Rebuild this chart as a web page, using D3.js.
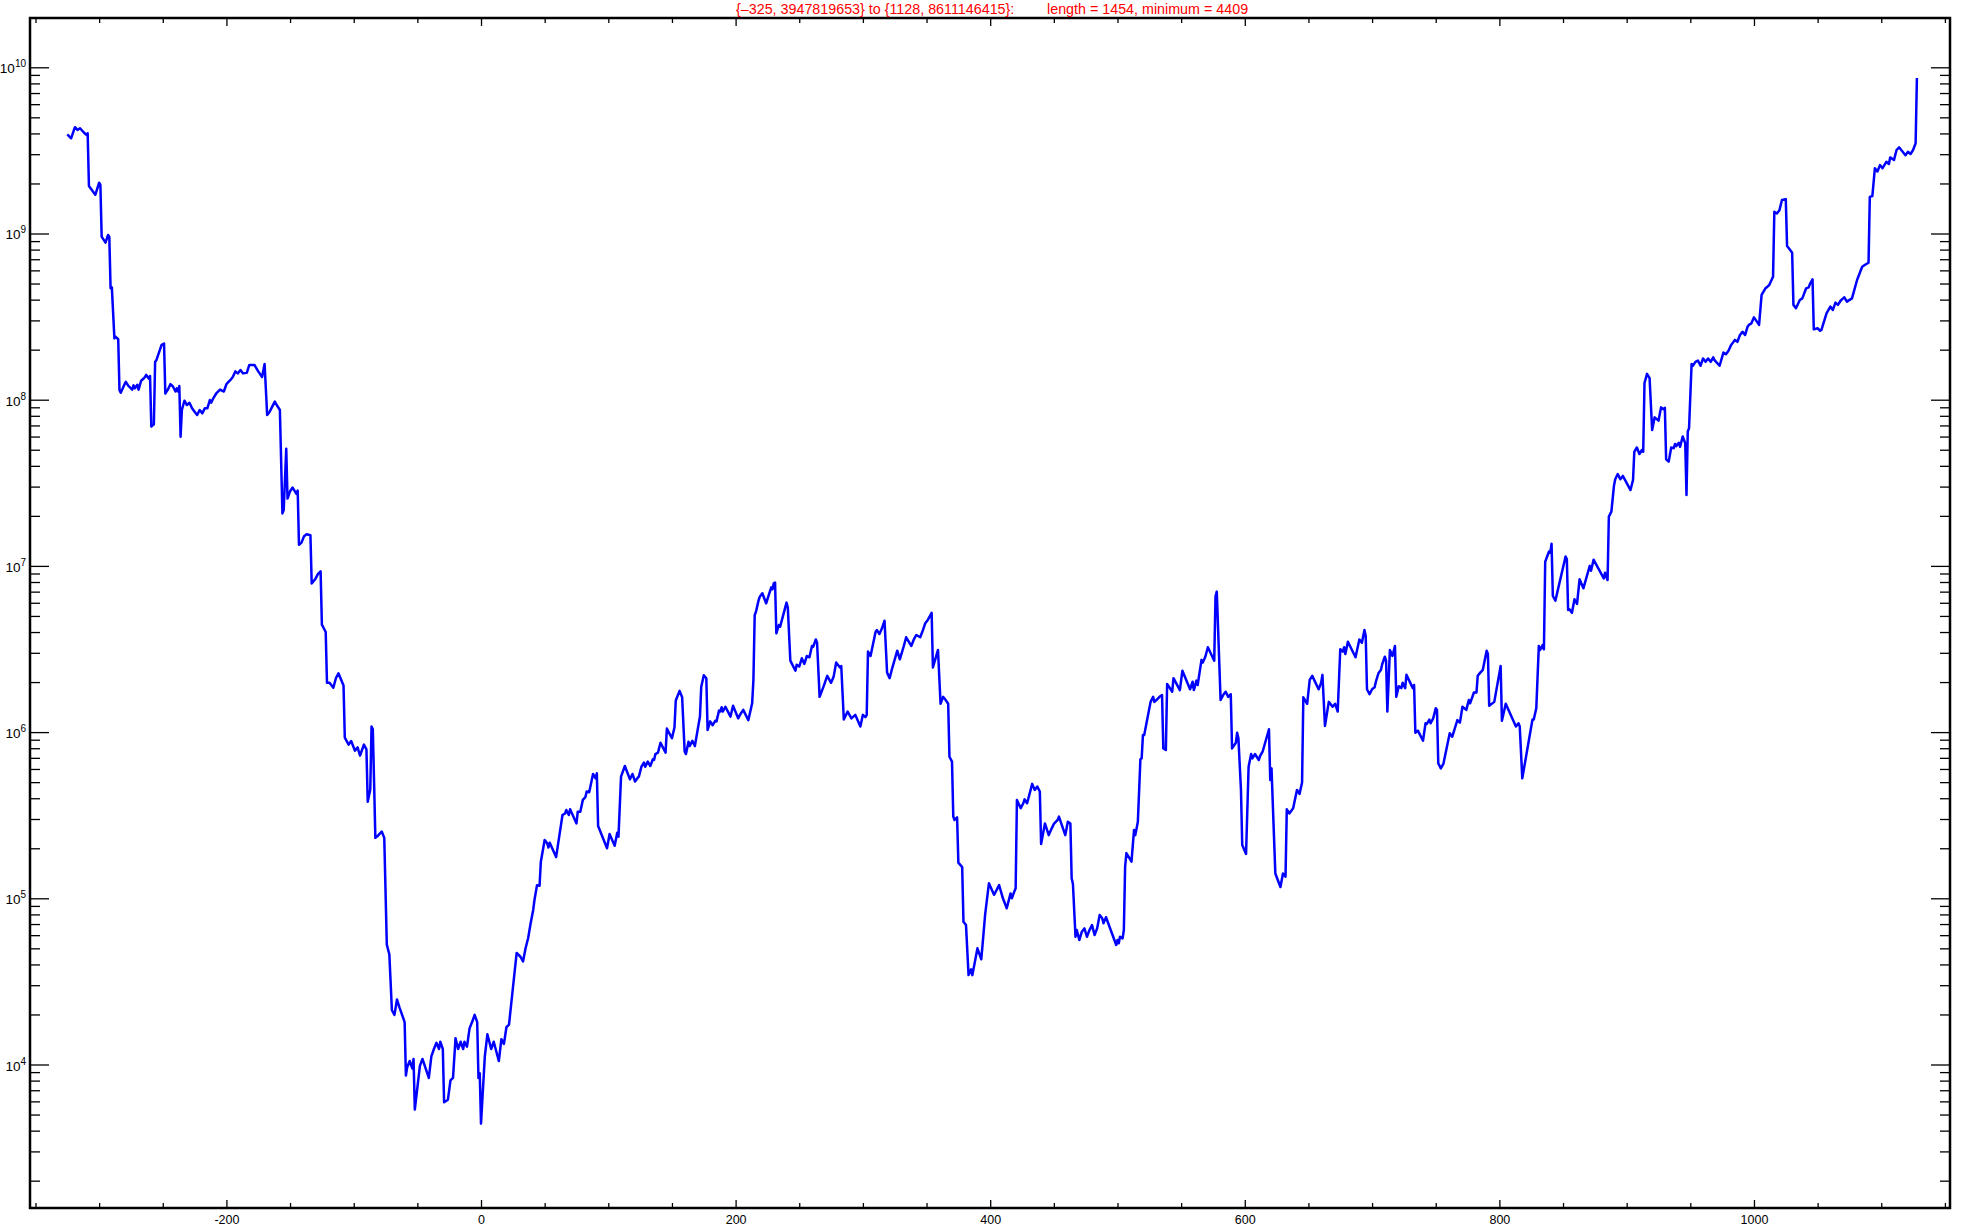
<!DOCTYPE html>
<html>
<head>
<meta charset="utf-8">
<script src="https://cdn.jsdelivr.net/npm/d3@7"></script>
<style>
body { margin: 0; background: #fff; }
text { font-family: "Liberation Sans", Arial, sans-serif; }
</style>
</head>
<body>
<svg id="chart" width="1961" height="1228"></svg>
<script>
// [step, value]
var curve = [
[-325,3.95e9],[-322,3.74e9],[-319,4.36e9],[-317,4.20e9],[-315,4.30e9],[-312,4.05e9],[-310,3.92e9],[-309,4.01e9],[-308,1.93e9],[-303,1.71e9],
[-300,2.02e9],[-299,1.96e9],[-298,9.57e8],[-295,8.81e8],[-293,9.79e8],[-292,9.57e8],[-291,4.68e8],[-290,4.74e8],[-288,2.34e8],[-287,2.39e8],
[-285,2.31e8],[-284,1.14e8],[-283,1.10e8],[-280,1.24e8],[-279,1.28e8],[-277,1.21e8],[-274,1.15e8],[-273,1.22e8],[-272,1.17e8],[-270,1.23e8],
[-269,1.15e8],[-267,1.30e8],[-265,1.34e8],[-264,1.37e8],[-263,1.41e8],[-261,1.34e8],[-260,1.39e8],[-259,6.89e7],[-257,7.11e7],[-256,1.69e8],
[-255,1.73e8],[-251,2.13e8],[-249,2.18e8],[-248,1.09e8],[-246,1.15e8],[-244,1.24e8],[-242,1.20e8],[-240,1.12e8],[-239,1.17e8],[-238,1.12e8],
[-237,1.21e8],[-236,5.98e7],[-235,8.67e7],[-233,9.86e7],[-231,9.29e7],[-229,9.59e7],[-227,8.87e7],[-225,8.47e7],[-223,8.09e7],[-221,8.67e7],
[-219,8.28e7],[-217,8.87e7],[-215,8.87e7],[-213,9.95e7],[-212,9.59e7],[-210,1.03e8],[-208,1.09e8],[-205,1.15e8],[-202,1.12e8],[-200,1.24e8],
[-197,1.31e8],[-195,1.37e8],[-193,1.48e8],[-191,1.44e8],[-189,1.51e8],[-187,1.44e8],[-184,1.45e8],[-182,1.62e8],[-178,1.62e8],[-175,1.48e8],
[-172,1.37e8],[-170,1.64e8],[-168,8.09e7],[-166,8.47e7],[-162,9.73e7],[-160,9.16e7],[-158,8.67e7],[-156,2.07e7],[-155,2.17e7],[-153,5.07e7],
[-152,2.54e7],[-150,2.81e7],[-148,2.96e7],[-145,2.71e7],[-144,2.84e7],[-143,1.34e7],[-141,1.38e7],[-139,1.51e7],[-137,1.55e7],[-134,1.53e7],
[-133,7.83e6],[-130,8.38e6],[-128,8.95e6],[-126,9.27e6],[-125,4.43e6],[-122,4.00e6],[-121,1.98e6],[-119,1.98e6],[-116,1.85e6],[-114,2.11e6],
[-112,2.26e6],[-108,1.91e6],[-107,9.25e5],[-104,8.41e5],[-102,8.83e5],[-99,7.73e5],[-97,8.09e5],[-95,7.23e5],[-92,8.41e5],[-90,7.87e5],
[-89,3.81e5],[-87,4.51e5],[-86,1.08e6],[-85,1.04e6],[-84,4.99e5],[-83,2.31e5],[-81,2.38e5],[-78,2.52e5],[-76,2.31e5],[-74,5.26e4],
[-72,4.59e4],[-70,2.12e4],[-68,1.99e4],[-66,2.46e4],[-64,2.20e4],[-60,1.80e4],[-59,8.59e3],[-58,9.62e3],[-56,1.05e4],[-54,9.48e3],
[-53,1.08e4],[-52,5.36e3],[-48,9.82e3],[-46,1.08e4],[-41,8.30e3],[-39,1.12e4],[-37,1.24e4],[-35,1.35e4],[-33,1.24e4],[-32,1.37e4],
[-30,1.24e4],[-29,5.93e3],[-26,6.14e3],[-24,8.02e3],[-22,8.30e3],[-20,1.44e4],[-18,1.24e4],[-16,1.37e4],[-14,1.24e4],[-13,1.37e4],
[-11,1.28e4],[-9,1.65e4],[-7,1.80e4],[-5,1.99e4],[-3,1.80e4],[-2,8.30e3],[-1,8.87e3],[0,4409],[3,1.12e4],[5,1.52e4],
[8,1.24e4],[10,1.37e4],[14,1.05e4],[16,1.42e4],[18,1.33e4],[20,1.68e4],[22,1.74e4],[28,4.69e4],[31,4.45e4],[33,4.17e4],
[35,5.01e4],[37,5.75e4],[39,7.08e4],[41,8.51e4],[42,9.77e4],[44,1.20e5],[46,1.19e5],[47,1.66e5],[50,2.24e5],[52,2.14e5],
[53,2.02e5],[54,2.16e5],[59,1.77e5],[64,3.17e5],[66,3.24e5],[67,3.40e5],[69,3.17e5],[70,3.43e5],[75,2.82e5],[76,3.32e5],
[78,3.32e5],[80,3.91e5],[82,4.06e5],[83,4.39e5],[85,4.35e5],[88,5.60e5],[90,5.27e5],[91,5.65e5],[92,2.72e5],[99,2.00e5],
[101,2.44e5],[105,2.07e5],[107,2.48e5],[108,2.35e5],[110,5.40e5],[113,6.25e5],[117,5.20e5],[119,5.60e5],[121,5.04e5],[123,5.30e5],
[124,5.40e5],[126,6.19e5],[128,6.55e5],[129,6.19e5],[131,6.64e5],[133,6.25e5],[135,6.86e5],[136,6.81e5],[137,7.38e5],[139,7.52e5],
[141,8.63e5],[145,7.52e5],[146,1.05e6],[150,9.18e5],[152,1.07e6],[153,1.55e6],[156,1.77e6],[158,1.62e6],[160,7.62e5],[161,7.38e5],
[163,8.75e5],[164,8.24e5],[166,8.87e5],[168,8.24e5],[172,1.24e6],[173,1.87e6],[175,2.20e6],[177,2.11e6],[178,1.03e6],[180,1.16e6],
[182,1.10e6],[184,1.17e6],[185,1.16e6],[187,1.35e6],[188,1.33e6],[189,1.41e6],[190,1.33e6],[192,1.42e6],[196,1.24e6],[198,1.44e6],
[202,1.21e6],[204,1.29e6],[206,1.36e6],[210,1.18e6],[213,1.49e6],[214,2.06e6],[215,5.07e6],[216,5.30e6],[218,6.18e6],[219,6.53e6],
[221,6.84e6],[224,5.96e6],[228,7.43e6],[229,7.23e6],[230,7.85e6],[231,7.94e6],[232,3.93e6],[234,4.41e6],[235,4.31e6],[240,6.01e6],
[241,5.64e6],[243,2.69e6],[247,2.34e6],[248,2.54e6],[250,2.48e6],[252,2.78e6],[254,2.57e6],[256,2.87e6],[258,2.82e6],[260,3.30e6],
[261,3.27e6],[263,3.61e6],[264,3.45e6],[266,1.63e6],[269,1.87e6],[272,2.18e6],[275,1.98e6],[277,2.15e6],[279,2.62e6],[282,2.45e6],
[283,2.50e6],[285,1.19e6],[288,1.33e6],[291,1.21e6],[294,1.27e6],[298,1.08e6],[300,1.27e6],[302,1.23e6],[303,1.27e6],[304,3.05e6],
[306,2.87e6],[310,4.02e6],[311,4.11e6],[313,3.89e6],[315,4.21e6],[317,4.68e6],[319,2.28e6],[321,2.11e6],[323,2.42e6],[327,3.09e6],
[329,2.74e6],[332,3.27e6],[334,3.72e6],[338,3.30e6],[340,3.61e6],[342,3.84e6],[345,3.72e6],[347,4.07e6],[349,4.52e6],[351,4.73e6],
[354,5.22e6],[355,2.45e6],[359,3.12e6],[361,1.48e6],[363,1.63e6],[365,1.56e6],[367,1.48e6],[368,7.11e5],[370,6.64e5],[371,3.10e5],
[372,2.96e5],[374,3.07e5],[375,1.64e5],[378,1.54e5],[379,7.23e4],[381,6.90e4],[383,3.45e4],[385,3.74e4],[386,3.45e4],[390,5.00e4],
[393,4.30e4],[394,5.24e4],[396,7.94e4],[399,1.23e5],[403,1.05e5],[405,1.12e5],[407,1.20e5],[410,1.00e5],[413,8.71e4],[416,1.07e5],
[417,1.00e5],[419,1.10e5],[420,1.15e5],[421,3.90e5],[424,3.48e5],[426,3.73e5],[427,3.94e5],[429,3.73e5],[433,4.88e5],[435,4.49e5],
[437,4.70e5],[439,4.39e5],[440,2.12e5],[443,2.82e5],[446,2.40e5],[448,2.60e5],[449,2.70e5],[450,2.80e5],[453,2.96e5],[454,3.10e5],
[459,2.40e5],[461,2.89e5],[463,2.82e5],[464,1.32e5],[465,1.22e5],[467,5.87e4],[468,6.44e4],[470,5.61e4],[472,6.30e4],[474,6.59e4],
[476,5.87e4],[478,6.44e4],[480,6.90e4],[482,6.01e4],[484,6.59e4],[486,7.94e4],[488,7.59e4],[489,7.08e4],[491,7.69e4],[499,5.24e4],
[500,5.61e4],[501,5.36e4],[502,5.87e4],[504,5.74e4],[505,6.44e4],[506,1.55e5],[507,1.87e5],[511,1.66e5],[513,2.58e5],[514,2.40e5],
[516,2.89e5],[518,6.86e5],[519,6.95e5],[520,9.62e5],[521,9.62e5],[526,1.52e6],[528,1.63e6],[529,1.52e6],[531,1.57e6],[533,1.63e6],
[535,1.67e6],[536,7.98e5],[538,7.80e5],[539,1.95e6],[543,1.75e6],[544,2.11e6],[549,1.79e6],[551,2.34e6],[557,1.81e6],[559,2.01e6],
[560,1.79e6],[562,2.04e6],[563,1.92e6],[566,2.72e6],[567,2.62e6],[569,2.84e6],[571,3.24e6],[576,2.69e6],[577,6.53e6],[578,7.00e6],
[581,1.56e6],[583,1.67e6],[585,1.75e6],[587,1.63e6],[589,1.69e6],[590,7.98e5],[593,8.63e5],[594,9.91e5],[595,9.18e5],[597,4.49e5],
[598,2.09e5],[601,1.85e5],[603,6.19e5],[605,7.38e5],[606,6.95e5],[608,7.38e5],[611,6.79e5],[612,7.18e5],[614,7.62e5],[619,1.04e6],
[620,5.15e5],[621,6.05e5],[624,1.41e5],[628,1.17e5],[630,1.41e5],[632,1.35e5],[633,3.43e5],[635,3.24e5],[638,3.48e5],[641,4.49e5],
[643,4.25e5],[645,4.97e5],[646,1.62e6],[649,1.48e6],[651,2.06e6],[653,2.18e6],[658,1.81e6],[660,1.98e6],[661,2.21e6],[663,1.09e6],
[666,1.52e6],[669,1.42e6],[671,1.48e6],[673,1.33e6],[675,3.15e6],[677,3.05e6],[678,3.24e6],[679,2.95e6],[681,3.50e6],[687,2.82e6],
[690,3.61e6],[692,3.45e6],[694,4.11e6],[695,3.78e6],[696,1.81e6],[698,1.69e6],[700,1.81e6],[702,1.86e6],[703,2.01e6],[705,2.26e6],
[707,2.37e6],[708,2.57e6],[710,2.84e6],[711,2.69e6],[712,1.33e6],[714,3.12e6],[716,2.87e6],[718,3.30e6],[719,1.63e6],[721,1.89e6],
[723,1.84e6],[724,1.98e6],[726,1.84e6],[727,2.21e6],[732,1.84e6],[733,1.92e6],[734,9.91e5],[736,1.02e6],[740,8.87e5],[742,1.13e6],
[743,1.12e6],[745,1.19e6],[746,1.13e6],[748,1.21e6],[750,1.39e6],[751,1.36e6],[752,6.49e5],[754,6.05e5],[756,6.43e5],[761,9.84e5],
[763,9.38e5],[767,1.18e6],[769,1.14e6],[771,1.42e6],[774,1.36e6],[776,1.56e6],[777,1.49e6],[780,1.73e6],[782,1.73e6],[783,2.18e6],
[785,2.28e6],[787,2.37e6],[790,3.09e6],[791,2.95e6],[792,1.44e6],[796,1.52e6],[801,2.50e6],[802,1.17e6],[805,1.48e6],[813,1.08e6],
[815,1.13e6],[816,1.08e6],[818,5.27e5],[826,1.19e6],[827,1.19e6],[829,1.39e6],[831,3.30e6],[832,3.12e6],[834,3.34e6],[835,3.15e6],
[836,1.06e7],[839,1.22e7],[840,1.20e7],[841,1.36e7],[842,6.59e6],[844,6.18e6],[852,1.14e7],[853,1.10e7],[854,5.43e6],[855,5.48e6],
[857,5.22e6],[859,6.30e6],[861,5.90e6],[863,8.30e6],[866,7.33e6],[871,1.00e7],[872,9.35e6],[874,1.09e7],[882,8.41e6],[883,9.10e6],
[885,8.22e6],[886,1.98e7],[888,2.12e7],[890,3.03e7],[891,3.32e7],[893,3.57e7],[895,3.32e7],[897,3.48e7],[903,2.86e7],[905,3.29e7],
[906,4.86e7],[908,5.16e7],[910,4.71e7],[912,4.98e7],[913,4.86e7],[914,1.26e8],[916,1.43e8],[918,1.35e8],[920,6.58e7],[922,7.83e7],
[925,7.48e7],[927,8.99e7],[929,8.75e7],[930,8.95e7],[931,4.38e7],[933,4.24e7],[935,5.16e7],[937,5.11e7],[938,5.42e7],[939,5.26e7],
[941,5.51e7],[942,5.21e7],[944,6.00e7],[946,5.47e7],[947,2.67e7],[948,6.43e7],[949,6.73e7],[951,1.64e8],[952,1.60e8],[954,1.69e8],
[956,1.72e8],[958,1.60e8],[960,1.77e8],[962,1.69e8],[964,1.77e8],[966,1.69e8],[968,1.80e8],[969,1.73e8],[973,1.60e8],[976,1.92e8],
[978,1.88e8],[980,1.97e8],[982,2.13e8],[985,2.29e8],[987,2.23e8],[989,2.45e8],[991,2.56e8],[993,2.45e8],[995,2.75e8],[996,2.82e8],
[998,2.88e8],[1000,3.13e8],[1004,2.82e8],[1006,4.27e8],[1009,4.68e8],[1010,4.74e8],[1012,4.90e8],[1015,5.50e8],[1016,1.35e9],[1018,1.32e9],
[1020,1.38e9],[1022,1.59e9],[1025,1.61e9],[1026,8.41e8],[1028,8.04e8],[1030,7.66e8],[1031,3.72e8],[1033,3.55e8],[1036,3.98e8],[1038,4.07e8],
[1041,4.68e8],[1043,4.74e8],[1044,4.97e8],[1046,5.30e8],[1047,2.65e8],[1050,2.69e8],[1052,2.60e8],[1053,2.63e8],[1057,3.31e8],[1060,3.63e8],
[1062,3.47e8],[1064,3.84e8],[1066,3.72e8],[1068,3.94e8],[1070,4.07e8],[1071,4.13e8],[1073,3.89e8],[1077,4.07e8],[1081,5.25e8],[1085,6.31e8],
[1087,6.46e8],[1090,6.67e8],[1091,1.66e9],[1093,1.68e9],[1095,2.47e9],[1097,2.36e9],[1099,2.58e9],[1101,2.47e9],[1104,2.70e9],[1106,2.62e9],
[1107,2.87e9],[1110,2.77e9],[1112,3.18e9],[1114,3.30e9],[1119,2.96e9],[1121,3.10e9],[1123,3.01e9],[1125,3.18e9],[1127,3.49e9],[1128,8611146415]
];

var xLabels = [-200, 0, 200, 400, 600, 800, 1000];
var xMinor = [-350, -300, -250, -150, -100, -50, 50, 100, 150, 250, 300, 350, 450, 500, 550, 650, 700, 750, 850, 900, 950, 1050, 1100, 1150];
var yDecades = [4, 5, 6, 7, 8, 9, 10];
var yMinorMult = [2, 3, 4, 5, 6, 7, 8, 9];
var titleLeft = "{\u2013325, 3947819653} to {1128, 8611146415}:";
var titleRight = "length = 1454, minimum = 4409";

var L = 30, R = 1950, T = 18, B = 1208;

var x = d3.scaleLinear().domain([-354.3, 1154]).range([L, R]);
var y = d3.scaleLog().domain([Math.pow(10, 3.1366), Math.pow(10, 10.2966)]).range([B, T]);

var yMinor = [];
[3, 4, 5, 6, 7, 8, 9, 10].forEach(function(e) {
  yMinorMult.forEach(function(m) {
    var v = m * Math.pow(10, e - 1);
    if (v > y.domain()[0] && v < y.domain()[1]) yMinor.push(v);
  });
});
var yMajor = yDecades.map(function(e) { return Math.pow(10, e); });

var svg = d3.select("#chart");

function axisGroup(axis, tx, ty) {
  var g = svg.append("g").attr("transform", "translate(" + tx + "," + ty + ")").call(axis);
  g.select(".domain").remove();
  g.selectAll(".tick line").attr("stroke", "#000").attr("stroke-width", 1.3);
  return g;
}

// bottom / top
axisGroup(d3.axisBottom(x).tickValues(xMinor).tickSize(-5).tickFormat(""), 0, B);
var bx = axisGroup(d3.axisBottom(x).tickValues(xLabels).tickSize(-8).tickPadding(7)
  .tickFormat(function(d) { return String(d); }), 0, B);
bx.selectAll("text").attr("font-size", 12.5).attr("fill", "#000")
  .attr("font-family", "'Liberation Sans', Arial, sans-serif");
axisGroup(d3.axisTop(x).tickValues(xMinor).tickSize(-5).tickFormat(""), 0, T);
axisGroup(d3.axisTop(x).tickValues(xLabels).tickSize(-8).tickFormat(""), 0, T);

// left / right
axisGroup(d3.axisLeft(y).tickValues(yMinor).tickSize(-10).tickFormat(""), L, 0);
axisGroup(d3.axisLeft(y).tickValues(yMajor).tickSize(-19).tickFormat(""), L, 0);
axisGroup(d3.axisRight(y).tickValues(yMinor).tickSize(-10).tickFormat(""), R, 0);
axisGroup(d3.axisRight(y).tickValues(yMajor).tickSize(-19).tickFormat(""), R, 0);

var yl = svg.append("g").selectAll("text")
  .data(yDecades)
  .enter()
  .append("text")
    .attr("x", L - 4)
    .attr("y", function(d) { return y(Math.pow(10, d)) + 6; })
    .attr("text-anchor", "end")
    .attr("fill", "#000");
yl.append("tspan").attr("font-size", 13.5).text("10");
yl.append("tspan").attr("font-size", 10).attr("dy", -6).text(function(d) { return d; });

var line = d3.line()
  .x(function(d) { return x(d[0]); })
  .y(function(d) { return y(d[1]); });

svg.append("path")
  .datum(curve)
  .attr("d", line)
  .attr("fill", "none")
  .attr("stroke", "#0000ff")
  .attr("stroke-width", 2.5)
  .attr("stroke-linejoin", "round");

svg.append("rect")
  .attr("x", L).attr("y", T)
  .attr("width", R - L).attr("height", B - T)
  .attr("fill", "none")
  .attr("stroke", "#000")
  .attr("stroke-width", 2.5);

var title = svg.append("text")
  .attr("y", 14)
  .attr("fill", "#ff0000")
  .attr("font-size", 14.3);
title.append("tspan").attr("x", 736).text(titleLeft);
title.append("tspan").attr("x", 1047).text(titleRight);
</script>
</body>
</html>
